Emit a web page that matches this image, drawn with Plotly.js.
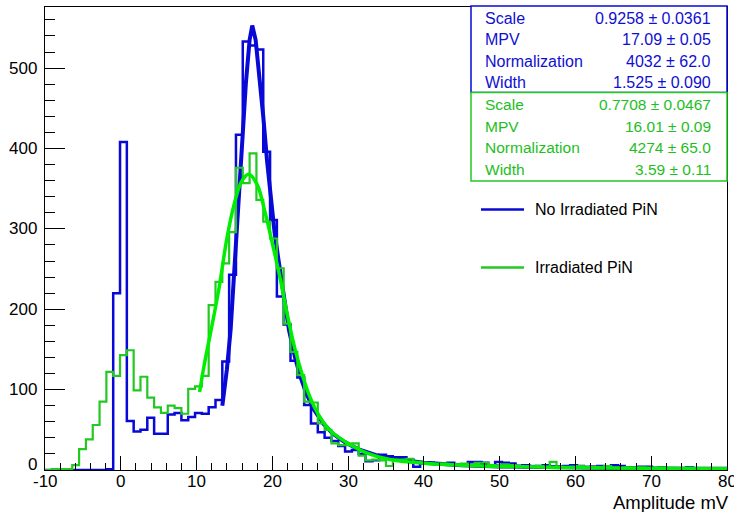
<!DOCTYPE html>
<html>
<head>
<meta charset="utf-8">
<script src="https://cdn.plot.ly/plotly-3.0.1.min.js"></script>
<style>html,body{margin:0;padding:0;background:#fff;}#chart{width:734px;height:512px;}</style>
</head>
<body>
<div id="chart"></div>
<script>
// Histogram binning (100 bins from -10 to 80)
const binLow = -10;
const binWidth = 0.9;

const blueCounts = [
  0,0,0,0,0,0,0,0,0,1,
  220,408,61,48,50,65,45,45,69,71,
  62,66,71,70,78,87,135,243,417,533,
  528,523,396,311,216,181,136,115,81,58,
  47,40,36,30,23,25,20,11,12,19,
  17,16,16,13,4,8,9,8,7,9,
  7,6,10,10,9,6,10,9,8,5,
  6,4,5,6,4,3,5,6,5,3,
  4,5,3,6,5,3,2,4,4,2,
  3,2,1,2,3,1,2,1,2,1
];
const greenCounts = [
  0,1,1,1,6,26,38,56,85,122,
  117,143,149,99,116,90,78,71,80,77,
  70,101,104,117,205,234,257,296,376,357,
  394,336,309,288,251,182,147,118,85,84,
  58,50,33,31,31,33,18,12,13,12,
  5,13,13,14,10,9,8,7,8,6,
  7,8,6,9,9,6,5,7,6,4,
  5,4,5,4,10,4,3,4,5,3,
  3,4,5,3,2,3,2,3,2,1,
  3,2,1,1,2,1,1,2,1,1
];

// Fit curves
const blueFitX = [13.4,14.0,14.5,15.0,15.5,16.0,16.5,17.0,17.35,17.8,18.3,18.8,19.3,19.8,20.3,20.8,21.5,22.2,23.0,23.7,24.5,25.5,26.8,28.0,29.5,31.3,33.9,36.5,40,45,50,55,60,65,70,75,80];
const blueFitY = [80,125,175,255,330,410,480,535,553,535,490,440,385,335,295,262,215,174,140,116,95,75,57,45,35,26,18,13,9,6,4.5,3.6,2.9,2.4,2.0,1.7,1.5];
const greenFitX = [10.4,11.0,12.0,13.0,14.0,15.0,16.0,16.9,18.0,19.0,20.0,21.0,22.0,23.0,24.0,25.0,26.0,27.0,28.0,30.0,32.5,35.5,40,45,50,55,60,65,70,75,80];
const greenFitY = [97,130,178,228,288,332,360,368,355,322,282,240,192,150,117,90,70,56,46,33,21,13,8.5,6,4.5,3.6,3.0,2.5,2.1,1.8,1.6];

const seriesNames = ["No Irradiated PiN", "Irradiated PiN"];
const statLabels = ["Scale", "MPV", "Normalization", "Width"];
const blueStats = ["0.9258 \u00b1 0.0361", "17.09 \u00b1 0.05", "4032 \u00b1 62.0", "1.525 \u00b1 0.090"];
const greenStats = ["0.7708 \u00b1 0.0467", "16.01 \u00b1 0.09", "4274 \u00b1 65.0", "3.59 \u00b1 0.11"];
const xTickVals = [-10, 0, 10, 20, 30, 40, 50, 60, 70, 80];
const yTickVals = [0, 100, 200, 300, 400, 500];

const BLUE = "rgb(8,8,215)";
const BLUE_TXT = "rgb(15,15,210)";
const GREEN_H = "rgb(35,200,35)";
const GREEN_F = "rgb(0,238,0)";
const GREEN_TXT = "rgb(30,190,30)";
const FONT = "Liberation Sans, Arial, Helvetica, sans-serif";

function stepTrace(counts, color, width) {
  const xs = [], ys = [];
  for (let i = 0; i <= counts.length; i++) {
    xs.push(binLow + binWidth * i);
    ys.push(i < counts.length ? counts[i] : counts[counts.length - 1]);
  }
  return {x: xs, y: ys, type: "scatter", mode: "lines",
          line: {shape: "hv", color: color, width: width},
          hoverinfo: "skip", showlegend: false};
}

const traces = [
  stepTrace(blueCounts, BLUE, 2.5),
  {x: blueFitX, y: blueFitY, type: "scatter", mode: "lines",
   line: {color: BLUE, width: 4}, showlegend: false},
  stepTrace(greenCounts, GREEN_H, 2.2),
  {x: greenFitX, y: greenFitY, type: "scatter", mode: "lines",
   line: {color: GREEN_F, width: 3.5, shape: "spline"}, showlegend: false}
];

// paper coordinate helpers (plot area: px x 45..727, y 7..470)
const px = v => (v - 45) / 682;
const py = v => (470 - v) / 463;

const annotations = [];
const shapes = [];

shapes.push({type: "rect", xref: "paper", yref: "paper", x0: px(471), x1: 1, y0: py(92.5), y1: py(6),
             line: {color: BLUE, width: 1.5}, fillcolor: "white", layer: "above"});
shapes.push({type: "rect", xref: "paper", yref: "paper", x0: px(471), x1: 1, y0: py(181), y1: py(92.5),
             line: {color: GREEN_H, width: 1.5}, fillcolor: "white", layer: "above"});

const blueRows = [18.3, 40, 61.5, 82.7];
const greenRows = [104.3, 126.7, 147.5, 169.3];
statLabels.forEach((lab, i) => {
  annotations.push({xref: "paper", yref: "paper", x: px(483), y: py(blueRows[i]), xanchor: "left", yanchor: "middle",
    text: lab, showarrow: false, font: {family: FONT, size: 16, color: BLUE_TXT}});
  annotations.push({xref: "paper", yref: "paper", x: px(713), y: py(blueRows[i]), xanchor: "right", yanchor: "middle",
    text: blueStats[i], showarrow: false, font: {family: FONT, size: 16, color: BLUE_TXT}});
  annotations.push({xref: "paper", yref: "paper", x: px(483), y: py(greenRows[i]), xanchor: "left", yanchor: "middle",
    text: lab, showarrow: false, font: {family: FONT, size: 15.5, color: GREEN_TXT}});
  annotations.push({xref: "paper", yref: "paper", x: px(713), y: py(greenRows[i]), xanchor: "right", yanchor: "middle",
    text: greenStats[i], showarrow: false, font: {family: FONT, size: 15.5, color: GREEN_TXT}});
});

// legend
const legendRows = [209.5, 267.5];
const legendColors = [BLUE, GREEN_H];
seriesNames.forEach((name, i) => {
  shapes.push({type: "line", xref: "paper", yref: "paper", x0: px(481), x1: px(524), y0: py(legendRows[i]), y1: py(legendRows[i]),
               line: {color: legendColors[i], width: 2.5}});
  annotations.push({xref: "paper", yref: "paper", x: px(533), y: py(legendRows[i]), xanchor: "left", yanchor: "middle",
    text: name, showarrow: false, font: {family: FONT, size: 16, color: "black"}});
});

// x tick labels drawn as text so the last one ("80") is kept, clipped by the page like the reference
xTickVals.forEach(v => {
  annotations.push({xref: "x", yref: "paper", x: v, y: py(481.5), xanchor: "center", yanchor: "middle",
    text: String(v), showarrow: false, font: {family: FONT, size: 17, color: "black"}});
});
// y tick labels (ROOT lifts the "0" label above the x labels)
yTickVals.forEach(v => {
  annotations.push({xref: "paper", yref: "y", x: px(39), y: v, xanchor: "right", yanchor: "middle",
    yshift: v === 0 ? 6 : 0,
    text: String(v), showarrow: false, font: {family: FONT, size: 17, color: "black"}});
});

// x axis title (right aligned, ROOT style)
annotations.push({xref: "paper", yref: "paper", x: px(731), y: py(502), xanchor: "right", yanchor: "middle",
  text: "Amplitude mV", showarrow: false, font: {family: FONT, size: 18.5, color: "black"}});

const layout = {
  width: 734, height: 512,
  margin: {l: 45, r: 7, t: 7, b: 42, pad: 0},
  paper_bgcolor: "white", plot_bgcolor: "white",
  showlegend: false,
  font: {family: FONT, color: "black"},
  xaxis: {
    range: [-10, 80], tick0: -10, dtick: 10, ticks: "inside", ticklen: 14, tickwidth: 1, tickcolor: "black",
    showticklabels: false,
    showline: true, linecolor: "black", linewidth: 1, mirror: true, showgrid: false, zeroline: false,
    minor: {dtick: 2, ticks: "inside", ticklen: 7, tickwidth: 1, tickcolor: "black", showgrid: false}
  },
  yaxis: {
    range: [0, 576], dtick: 100, ticks: "inside", ticklen: 20, tickwidth: 1, tickcolor: "black",
    showticklabels: false,
    showline: true, linecolor: "black", linewidth: 1, mirror: true, showgrid: false, zeroline: false,
    minor: {dtick: 20, ticks: "inside", ticklen: 10, tickwidth: 1, tickcolor: "black", showgrid: false}
  },
  shapes: shapes,
  annotations: annotations
};

Plotly.newPlot("chart", traces, layout, {staticPlot: true, displayModeBar: false});
</script>
</body>
</html>
